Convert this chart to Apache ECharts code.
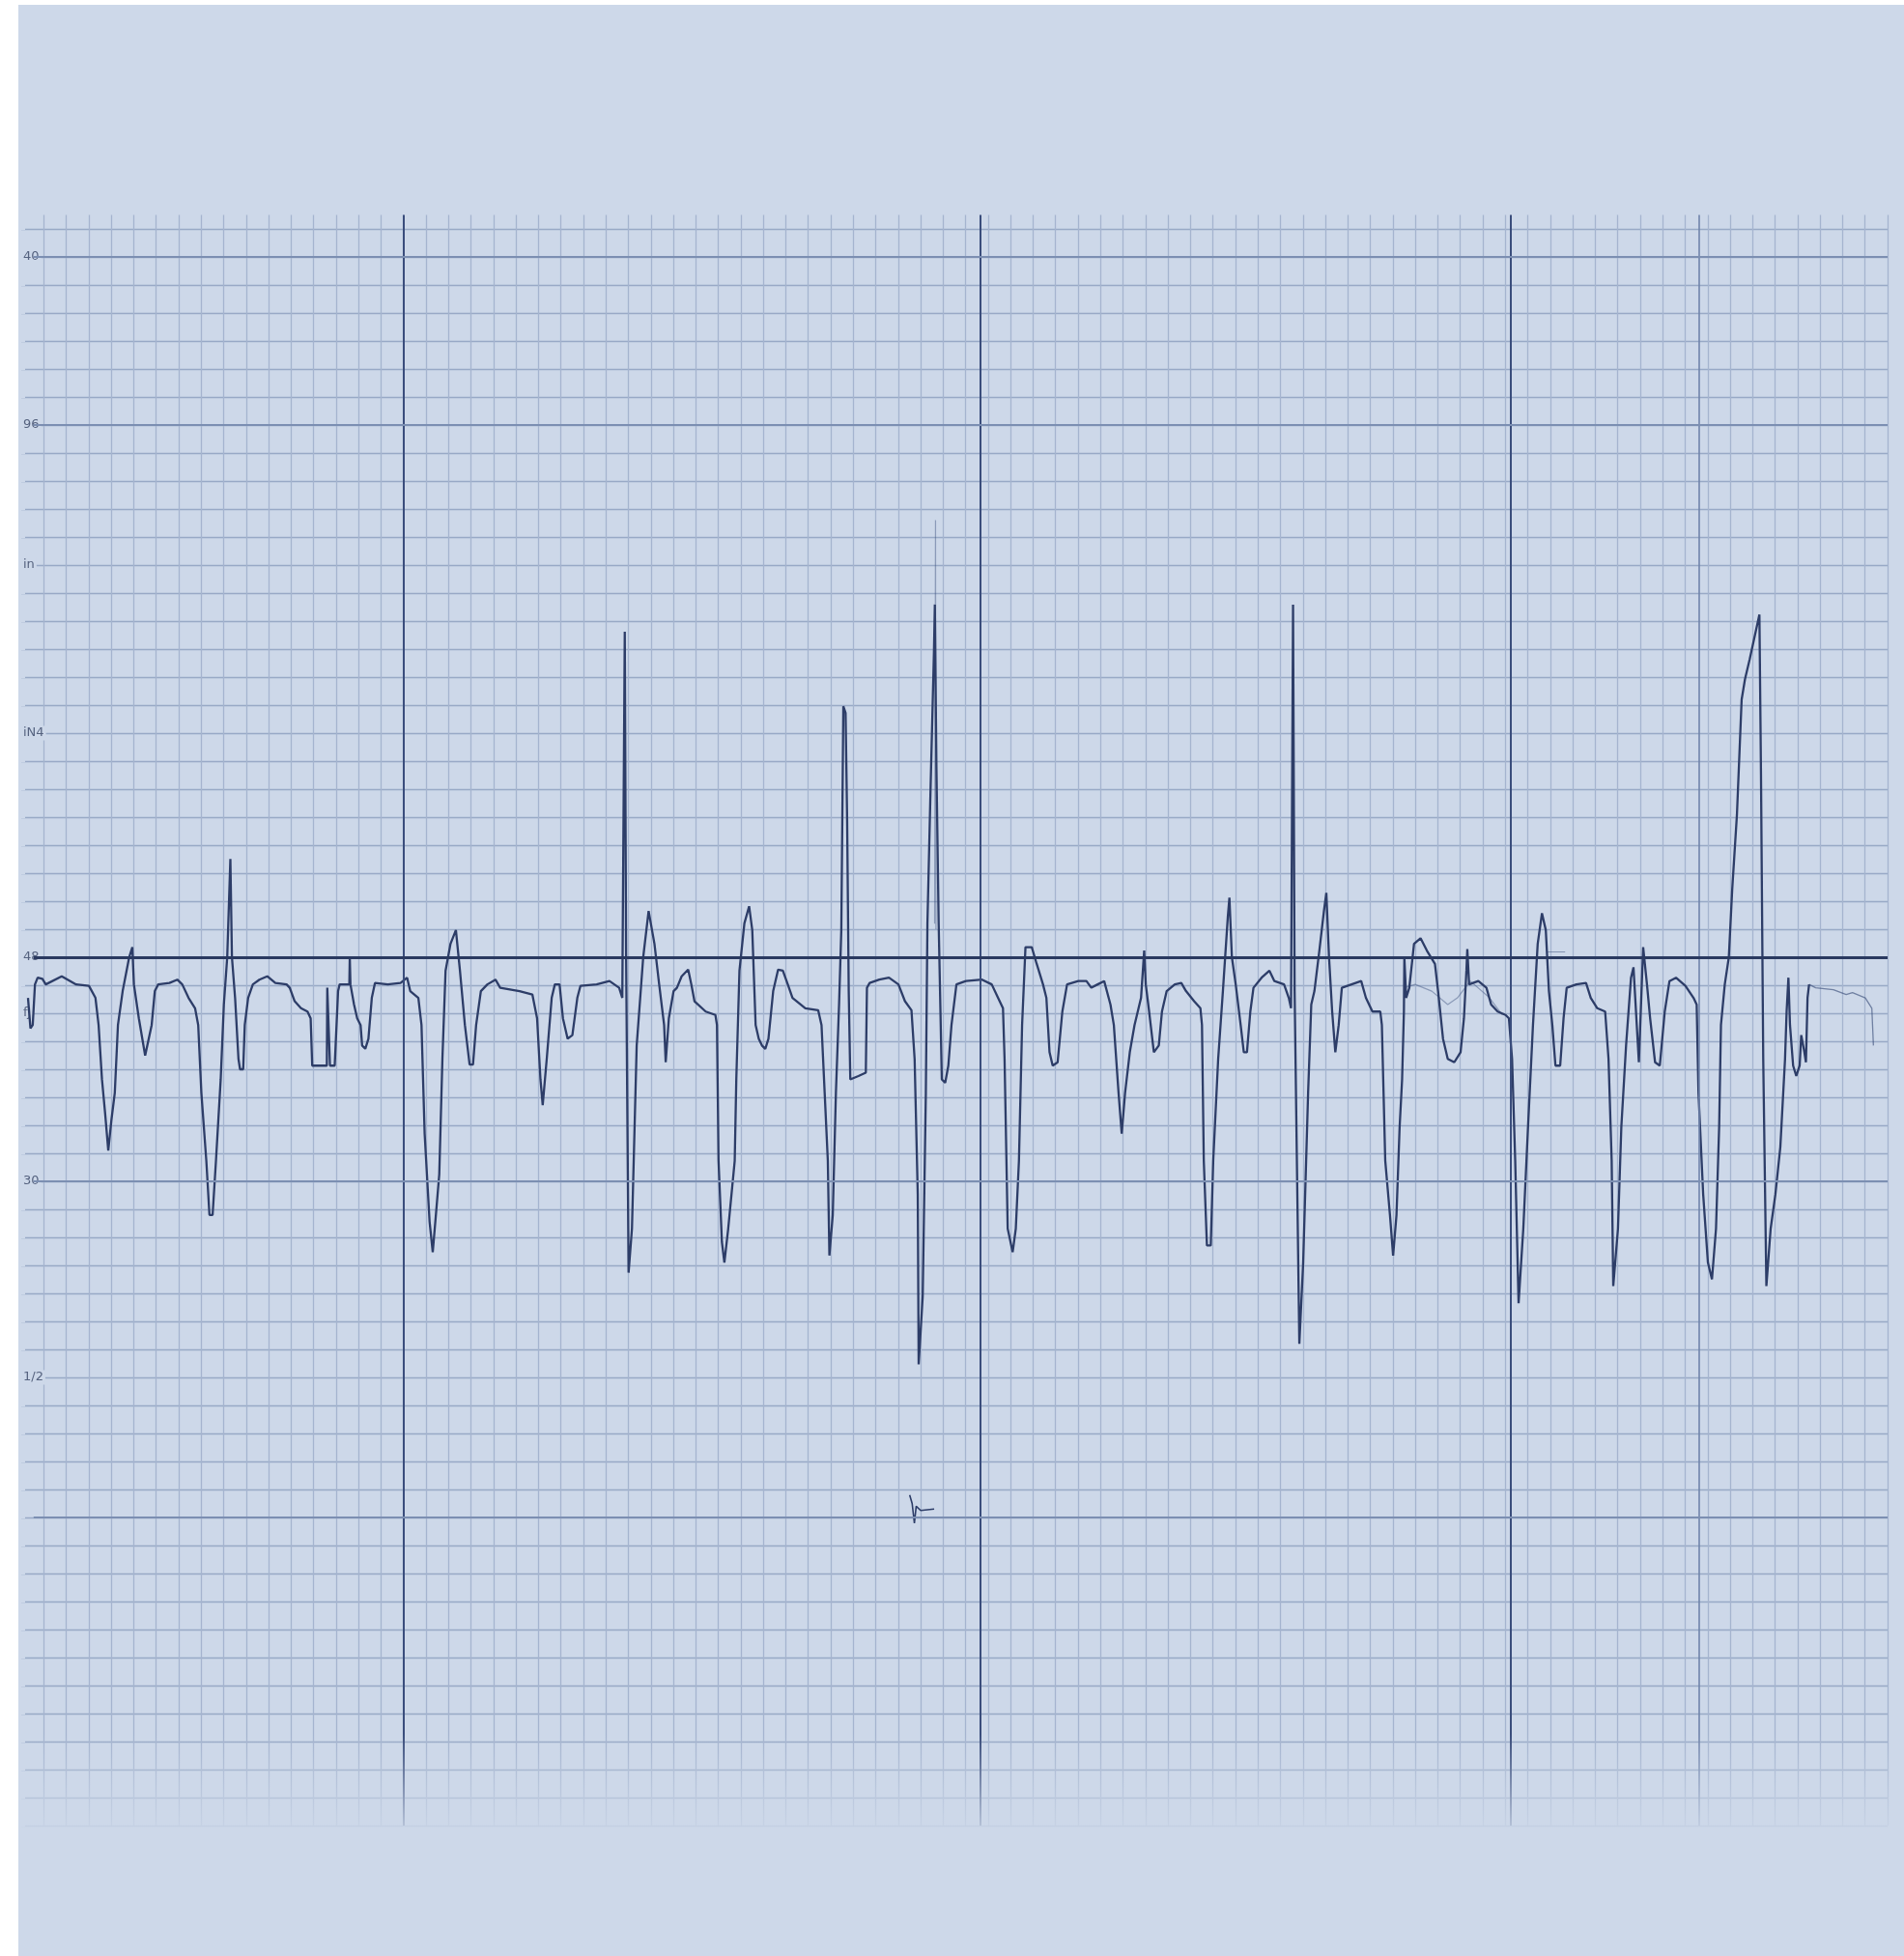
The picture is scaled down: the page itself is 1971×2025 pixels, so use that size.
<!DOCTYPE html>
<html>
<head>
<meta charset="utf-8">
<script src="https://cdn.jsdelivr.net/npm/echarts@6/dist/echarts.min.js"></script>
<style>
  html, body { margin: 0; padding: 0; background: #ffffff; width: 1971px; height: 2025px; overflow: hidden; }
  #c { position: absolute; left: 19px; top: 5px; width: 1952px; height: 2020px; }
</style>
</head>
<body>
<div id="c"></div>
<script>
// Grid units: x = small boxes (time), y = small boxes (amplitude), baseline = 0
const yLabelValues = [25, 19, 14, 8, 0, -2, -8, -15];
const yLabelTexts  = ['40', '96', 'in', 'iN4', '48', 'fJ', '30', '1/2'];

const majorX  = [16.0, 41.67, 65.24];
const mediumX = [73.6];
const mediumY = [25, 19, -8, -20];
const baselineY = [0];

const ecgTrace = [
  [-0.70,-1.45],[-0.59,-2.54],[-0.49,-2.42],[-0.39,-0.97],[-0.27,-0.73],[-0.06,-0.77],[0.09,-0.97],[0.80,-0.68],[1.44,-0.97],[2.01,-1.02],
  [2.30,-1.45],[2.44,-2.42],[2.59,-4.36],[2.73,-5.57],[2.87,-6.90],[3.01,-5.81],[3.16,-4.84],[3.30,-2.42],[3.51,-1.21],[3.80,0],
  [3.94,0.36],[4.01,-0.97],[4.23,-2.18],[4.51,-3.51],[4.80,-2.42],[4.94,-1.21],[5.09,-0.97],[5.59,-0.92],[5.94,-0.80],[6.16,-0.97],
  [6.44,-1.45],[6.73,-1.82],[6.87,-2.42],[7.01,-4.84],[7.23,-7.26],[7.37,-9.20],[7.51,-9.20],[7.66,-7.26],[7.87,-4.36],[8.01,-1.69],
  [8.16,0],[8.30,3.51],[8.37,0],[8.51,-1.45],[8.66,-3.63],[8.73,-4.00],[8.87,-4.00],[8.94,-2.42],[9.09,-1.45],[9.30,-0.97],
  [9.59,-0.80],[9.94,-0.68],[10.30,-0.92],[10.80,-0.97],[10.94,-1.09],[11.16,-1.57],[11.44,-1.82],[11.73,-1.94],[11.87,-2.18],[11.94,-3.87],
  [12.59,-3.87],[12.61,-1.09],[12.69,-1.09],[12.73,-3.87],[12.94,-3.87],[13.09,-1.21],
  [13.16,-0.97],[13.59,-0.97],[13.61,0],[13.64,-0.97],[13.80,-1.69],[13.94,-2.18],[14.09,-2.42],[14.16,-3.15],[14.30,-3.27],[14.44,-2.91],
  [14.59,-1.45],[14.73,-0.92],[15.30,-0.97],[15.87,-0.92],[16.16,-0.73],[16.30,-1.21],[16.66,-1.45],[16.80,-2.42],[16.94,-6.30],[17.16,-9.44],
  [17.30,-10.53],[17.44,-9.20],[17.59,-7.75],[17.73,-3.63],[17.87,-0.48],[18.09,0.48],[18.33,0.97],[18.51,-0.48],[18.73,-2.42],[18.94,-3.83],
  [19.09,-3.83],[19.23,-2.42],[19.44,-1.21],[19.73,-0.97],[20.09,-0.80],[20.30,-1.09],[21.16,-1.21],[21.73,-1.33],[21.94,-2.18],[22.09,-4.36],
  [22.19,-5.28],[22.37,-3.63],[22.59,-1.45],[22.73,-0.97],[22.94,-0.97],[23.09,-2.18],[23.30,-2.91],[23.51,-2.78],[23.73,-1.45],[23.87,-1.02],
  [24.59,-0.97],[25.16,-0.85],[25.59,-1.09],[25.73,-1.45],[25.84,11.62],[25.90,0],[26.01,-11.26],[26.16,-9.69],[26.37,-3.15],[26.66,0],
  [26.90,1.65],[27.16,0.48],[27.37,-0.97],[27.59,-2.42],[27.66,-3.75],[27.80,-2.18],[28.01,-1.21],
  [28.16,-1.09],[28.37,-0.68],[28.66,-0.44],[28.80,-0.97],[28.94,-1.57],[29.44,-1.94],[29.87,-2.06],[29.94,-2.42],[30.01,-7.26],[30.16,-10.17],
  [30.27,-10.90],[30.44,-9.69],[30.73,-7.26],[30.80,-4.36],[30.94,-0.48],[31.16,1.21],[31.37,1.82],[31.51,0.97],[31.66,-2.42],[31.80,-2.91],
  [31.94,-3.15],[32.09,-3.27],[32.23,-2.91],[32.44,-1.21],[32.66,-0.44],[32.87,-0.48],[33.09,-0.97],[33.30,-1.45],[33.87,-1.82],[34.44,-1.89],
  [34.59,-2.42],[34.73,-4.84],[34.87,-7.26],[34.94,-10.65],[35.09,-9.20],[35.23,-4.84],[35.37,-1.69],[35.47,0.97],[35.56,8.96],[35.66,8.72],
  [35.73,4.84],[35.80,-1.21],[35.87,-4.36],[36.23,-4.24],[36.56,-4.12],[36.61,-1.09],[36.73,-0.92],[37.16,-0.80],[37.59,-0.73],[38.01,-0.97],
  [38.30,-1.57],[38.59,-1.89],[38.73,-3.63],[38.87,-8.47],[38.91,-14.53],[39.09,-12.11],[39.23,-4.84],[39.30,1.21],[39.44,6.05],[39.59,10.90],
  [39.63,12.59],[39.70,6.78],[39.80,1.21],[39.94,-4.36],[40.09,-4.48],[40.23,-3.87],[40.37,-2.42],[40.59,-0.97],[41.01,-0.85],[41.73,-0.80],
  [42.16,-0.97],[42.44,-1.45],[42.66,-1.82],[42.73,-3.63],[42.87,-9.69],[43.09,-10.53],
  [43.23,-9.69],[43.37,-7.26],[43.51,-2.42],[43.66,0.36],[43.94,0.36],[44.16,-0.24],[44.44,-0.97],[44.59,-1.45],[44.73,-3.39],[44.87,-3.87],
  [45.09,-3.75],[45.30,-1.94],[45.51,-0.97],[46.01,-0.85],[46.37,-0.85],[46.59,-1.09],[46.87,-0.97],[47.16,-0.85],[47.44,-1.69],[47.59,-2.42],
  [47.80,-4.84],[47.94,-6.30],[48.09,-4.84],[48.30,-3.39],[48.51,-2.42],[48.80,-1.45],[48.94,0.24],[49.01,-0.97],[49.16,-1.94],[49.37,-3.39],
  [49.59,-3.15],[49.73,-1.94],[49.94,-1.21],[50.30,-0.97],[50.59,-0.92],[50.80,-1.21],[51.16,-1.57],[51.44,-1.82],[51.51,-2.42],[51.59,-7.26],
  [51.73,-10.29],[51.90,-10.29],[52.01,-7.26],[52.23,-3.63],[52.44,-1.21],[52.66,1.45],[52.73,2.13],[52.84,0],[53.01,-0.97],[53.23,-2.42],
  [53.37,-3.39],[53.51,-3.39],[53.66,-1.94],[53.80,-1.09],[54.16,-0.73],[54.51,-0.48],[54.73,-0.85],[55.16,-0.97],[55.37,-1.45],[55.47,-1.82],
  [55.56,12.59],[55.63,-1.21],[55.73,-7.26],[55.84,-13.80],[56.01,-10.90],[56.23,-4.84],[56.37,-1.69],[56.51,-1.21],[56.73,0.24],[56.94,1.69],
  [57.04,2.30],[57.16,0],[57.30,-1.94],[57.44,-3.39],[57.59,-2.42],[57.73,-1.09],[58.16,-0.97],
  [58.59,-0.85],[58.80,-1.45],[59.09,-1.94],[59.44,-1.94],[59.51,-2.42],[59.66,-7.26],[59.87,-9.20],[60.01,-10.65],[60.16,-9.20],[60.30,-6.05],
  [60.41,-4.36],[60.49,-1.94],[60.51,0],[60.59,-1.45],[60.73,-1.09],[60.94,0.48],[61.23,0.68],[61.51,0.24],[61.87,-0.24],[62.01,-1.21],
  [62.23,-2.91],[62.44,-3.63],[62.73,-3.75],[63.01,-3.39],[63.16,-2.18],[63.27,-0.48],[63.31,0.29],[63.39,-0.97],[63.80,-0.85],[64.16,-1.09],
  [64.37,-1.69],[64.66,-1.94],[65.01,-2.06],[65.16,-2.18],[65.30,-3.63],[65.44,-7.26],[65.59,-12.35],[65.80,-9.69],[66.01,-6.05],[66.23,-2.42],
  [66.44,0.48],[66.63,1.57],[66.80,0.97],[66.94,-1.21],[67.09,-2.42],[67.23,-3.87],[67.44,-3.87],[67.59,-2.18],[67.73,-1.09],[68.16,-0.97],
  [68.59,-0.92],[68.80,-1.45],[69.09,-1.82],[69.44,-1.94],[69.59,-3.63],[69.73,-7.26],[69.80,-11.74],[70.01,-9.69],[70.16,-6.05],[70.37,-3.15],
  [70.59,-0.73],[70.70,-0.36],[70.94,-3.75],[71.13,0.36],[71.30,-0.97],[71.44,-2.18],[71.66,-3.75],[71.87,-3.87],[72.09,-1.94],[72.30,-0.85],
  [72.59,-0.73],[73.01,-1.02],[73.37,-1.45],[73.51,-1.69],[73.59,-4.84],[73.80,-8.47],[74.01,-10.90],[74.19,-11.50],[74.37,-9.69],[74.51,-6.05],
  [74.59,-2.42],[74.76,-0.97],[74.94,0],[75.09,2.42],[75.30,5.08],[75.51,9.20],[75.66,9.93],[75.87,10.65],[76.30,12.23],[76.37,6.54],
  [76.47,-3.63],[76.61,-11.74],[76.80,-9.69],[77.01,-8.47],[77.23,-6.78],[77.44,-3.63],[77.51,-1.94],[77.59,-0.73],[77.66,-2.42],[77.80,-3.87],
  [77.94,-4.24],[78.09,-3.87],[78.16,-2.78],[78.30,-3.39],[78.37,-3.75],[78.44,-1.45],[78.51,-0.97]
];

const faintTail = [
  [78.51,-0.97],[78.80,-1.09],[79.59,-1.16],[80.16,-1.33],[80.44,-1.26],[81.01,-1.45],[81.30,-1.82],[81.37,-3.15]
];
const faintSpike = [[39.62,1.2],[39.66,15.6],[39.68,1.0]];
const faintEcho = [
  [60.51,-1.09],[60.99,-0.97],[61.73,-1.21],[62.44,-1.69],[62.87,-1.45],[63.44,-0.85],[64.30,-1.45],[64.87,-2.06]
];
const faintFlat = [[66.87,0.19],[67.66,0.19]];
const artifact = [[38.51,-19.2],[38.62,-19.5],[38.72,-20.2],[38.80,-19.6],[39.00,-19.75],[39.60,-19.7]];

const X_START = -0.45, X_END = 82;

const BG = '#cdd8e9';
const TRACE = '#2d3d68';

const chart = echarts.init(document.getElementById('c'), null, { renderer: 'canvas' });

function hLine(v, color, width) {
  return [
    { coord: [X_START, v], lineStyle: { color: color, width: width, type: 'solid' } },
    { coord: [X_END, v] }
  ];
}

const markLines = []
  .concat(majorX.map(v => ({ xAxis: v, lineStyle: { color: '#3a4d7c', width: 2, type: 'solid' } })))
  .concat(mediumX.map(v => ({ xAxis: v, lineStyle: { color: '#7084ab', width: 1.6, type: 'solid' } })))
  .concat(mediumY.map(v => hLine(v, '#7c8fb2', 2)))
  .concat(baselineY.map(v => hLine(v, '#2a3960', 3)));

chart.setOption({
  animation: false,
  backgroundColor: BG,
  grid: { left: 1, right: 17, top: 217.5, bottom: 135, containLabel: false },
  xAxis: {
    type: 'value', min: -1, max: 82, interval: 1,
    axisLine: { show: false }, axisTick: { show: false }, axisLabel: { show: false },
    splitLine: { show: true, showMinLine: false, lineStyle: { color: '#a5b4cf', width: 1.3 } }
  },
  yAxis: {
    type: 'value', min: -31, max: 26.5, interval: 1,
    axisLine: { show: false }, axisTick: { show: false },
    axisLabel: {
      inside: true, margin: 0, fontSize: 13, color: '#55627f',
      fontFamily: 'DejaVu Sans', backgroundColor: BG, padding: [1, 2],
      formatter: function (v) {
        const i = yLabelValues.indexOf(Math.round(v * 10) / 10);
        return i >= 0 ? yLabelTexts[i] : '';
      }
    },
    splitLine: { show: true, showMaxLine: false, lineStyle: { color: '#98a9c6', width: 1.3 } }
  },
  graphic: [{
    type: 'rect', z: 50, silent: true,
    shape: { x: 0, y: 1790, width: 1952, height: 115 },
    style: {
      fill: new echarts.graphic.LinearGradient(0, 0, 0, 1, [
        { offset: 0, color: 'rgba(205,216,233,0)' },
        { offset: 1, color: 'rgba(205,216,233,1)' }
      ])
    }
  }],
  series: [
    {
      type: 'line', data: [], z: 1, silent: true,
      markLine: { silent: true, symbol: 'none', label: { show: false },
                  lineStyle: { type: 'solid' }, data: markLines }
    },
    { type: 'line', data: faintSpike, showSymbol: false, z: 2, lineStyle: { color: 'rgba(60,80,125,0.45)', width: 1.2 } },
    { type: 'line', data: faintEcho, showSymbol: false, z: 2, lineStyle: { color: 'rgba(60,80,125,0.45)', width: 1.2 } },
    { type: 'line', data: faintFlat, showSymbol: false, z: 2, lineStyle: { color: 'rgba(60,80,125,0.5)', width: 1.2 } },
    { type: 'line', data: faintTail, showSymbol: false, z: 2, lineStyle: { color: 'rgba(50,70,115,0.6)', width: 1.3 } },
    { type: 'line', data: ecgTrace, showSymbol: false, z: 3, lineStyle: { color: TRACE, width: 2.3 } },
    { type: 'line', data: artifact, showSymbol: false, z: 3, lineStyle: { color: TRACE, width: 1.6 } }
  ]
});
</script>
</body>
</html>
